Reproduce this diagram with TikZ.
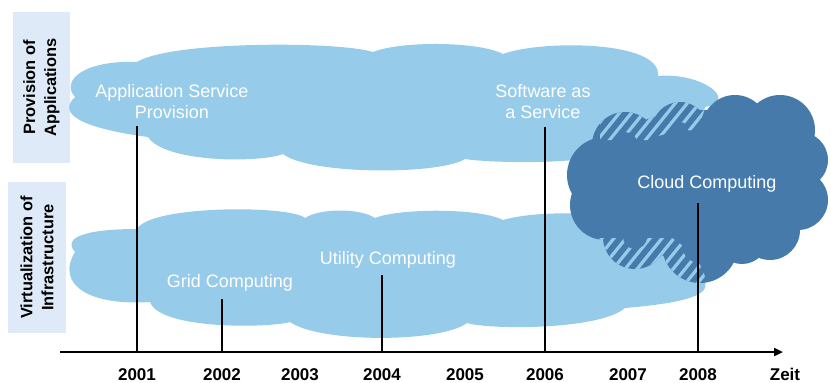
\documentclass[tikz,border=0pt]{standalone}
\usepackage{fontspec}
\setmainfont{Liberation Sans}
\usetikzlibrary{arrows.meta}
\definecolor{cloudlight}{HTML}{96CBEA}
\definecolor{clouddark}{HTML}{457AAB}
\definecolor{boxfill}{HTML}{DEEAF7}
\begin{document}
\begin{tikzpicture}[x=1pt,y=-1pt,
  toppath/.style={insert path={
    (75,97) .. controls (60,80) and (85,60) .. (137,62)
    .. controls (170,41) and (338,41) .. (373,52)
    .. controls (400,41) and (478,41) .. (503,54)
    .. controls (540,40) and (662,40) .. (658,76)
    .. controls (700,72) and (740,100) .. (705,107)
    .. controls (700,140) and (650,156) .. (610,153)
    .. controls (580,165) and (490,163) .. (465,159)
    .. controls (440,175) and (310,175) .. (283,154)
    .. controls (260,163) and (165,163) .. (148,137)
    .. controls (110,132) and (50,120) .. (75,97) -- cycle}},
  bottompath/.style={insert path={
    (75,252) .. controls (60,235) and (95,229) .. (137,229)
    .. controls (150,205) and (290,205) .. (305,218)
    .. controls (320,208) and (360,208) .. (375,218)
    .. controls (400,208) and (480,208) .. (503,220)
    .. controls (530,212) and (580,212) .. (600,216)
    .. controls (650,215) and (712,255) .. (705,288)
    .. controls (700,300) and (660,305) .. (625,308)
    .. controls (600,330) and (490,330) .. (467,323)
    .. controls (440,343) and (320,343) .. (290,322)
    .. controls (270,328) and (160,330) .. (150,302)
    .. controls (90,306) and (55,285) .. (75,252) -- cycle}},
  darkpath/.style={insert path={
    (700,185) ellipse [x radius=110pt,y radius=75pt]
    (625,145) ellipse [radius=33pt]
    (680,130) ellipse [radius=28pt]
    (735,128) ellipse [radius=33pt]
    (780,130) ellipse [radius=35pt]
    (800,160) ellipse [radius=28pt]
    (798,200) ellipse [radius=30pt]
    (770,230) ellipse [radius=30pt]
    (742,238) ellipse [radius=26pt]
    (700,245) ellipse [radius=38pt]
    (635,237) ellipse [radius=32pt]
    (605,205) ellipse [radius=35pt]
    (605,175) ellipse [radius=38pt]}},
  darkinner/.style={insert path={
    (700,185) ellipse [x radius=90pt,y radius=55pt]
    (625,145) ellipse [radius=13pt]
    (680,130) ellipse [radius=8pt]
    (735,128) ellipse [radius=13pt]
    (780,130) ellipse [radius=15pt]
    (800,160) ellipse [radius=8pt]
    (798,200) ellipse [radius=10pt]
    (770,230) ellipse [radius=10pt]
    (742,238) ellipse [radius=6pt]
    (700,245) ellipse [radius=18pt]
    (635,237) ellipse [radius=12pt]
    (605,205) ellipse [radius=15pt]
    (605,175) ellipse [radius=18pt]}},
  stripe/.style={cloudlight, line width=3.2pt},
  sidebox/.style={fill=boxfill, rotate=90, align=center, inner sep=0pt,
    font=\fontsize{16.4}{21}\selectfont\bfseries},
  cloudtext/.style={text=white, align=center, inner sep=0pt, anchor=base,
    font=\fontsize{18}{21.5}\selectfont},
  year/.style={anchor=base, inner sep=0pt, font=\fontsize{17}{20}\selectfont\bfseries},
  tick/.style={line width=2.7pt},
  axisline/.style={line width=2.7pt, -{Triangle[length=9pt,width=8pt]}}
]
\useasboundingbox (0,0) rectangle (831,383);

% side boxes
\node[sidebox, minimum width=151pt, minimum height=57pt] (prov) at (41.5,87.5) {Provision of\\Applications};
\node[sidebox, minimum width=151pt, minimum height=58pt] (virt) at (37,257.5) {Virtualization of\\Infrastructure};

% light clouds
\fill[cloudlight, toppath];
\fill[cloudlight, bottompath];

% dark cloud with hatched overlap band
\fill[clouddark, darkpath];
\begin{scope}
  \clip[toppath, bottompath];
  \clip[darkpath];
  \clip (600,0) rectangle (831,140) (590,238) rectangle (831,383);
  \foreach \s in {420,432,...,720} \draw[stripe] (\s,300) -- ++(170,-210);
\end{scope}
\fill[clouddark, darkinner];

% labels in clouds
\node[cloudtext] (asp) at (172,118.5) {Application Service\\Provision};
\node[cloudtext] (saas) at (543,118.5) {Software as\\a Service};
\node[cloudtext] (cc) at (707,188) {Cloud Computing};
\node[cloudtext] (uc) at (388,264) {Utility Computing};
\node[cloudtext] (gc) at (230,287) {Grid Computing};

% axis
\coordinate (axstart) at (60,352);
\coordinate (axend) at (783,352);
\draw[axisline] (axstart) -- (axend);

% ticks
\coordinate (t2001) at (137,126); \coordinate (a2001) at (137,352);
\coordinate (t2002) at (222,299); \coordinate (a2002) at (222,352);
\coordinate (t2004) at (382,275); \coordinate (a2004) at (382,352);
\coordinate (t2006) at (545,127); \coordinate (a2006) at (545,352);
\coordinate (t2008) at (698,203); \coordinate (a2008) at (698,352);
\draw[tick] (t2001) -- (a2001);
\draw[tick] (t2002) -- (a2002);
\draw[tick] (t2004) -- (a2004);
\draw[tick] (t2006) -- (a2006);
\draw[tick] (t2008) -- (a2008);

% years
\node[year] (y2001) at (137,380) {2001};
\node[year] (y2002) at (222,380) {2002};
\node[year] (y2003) at (300,380) {2003};
\node[year] (y2004) at (382,380) {2004};
\node[year] (y2005) at (465,380) {2005};
\node[year] (y2006) at (545,380) {2006};
\node[year] (y2007) at (628,380) {2007};
\node[year] (y2008) at (698,380) {2008};
\node[year] (zeit) at (785,380) {Zeit};
\end{tikzpicture}
\end{document}
